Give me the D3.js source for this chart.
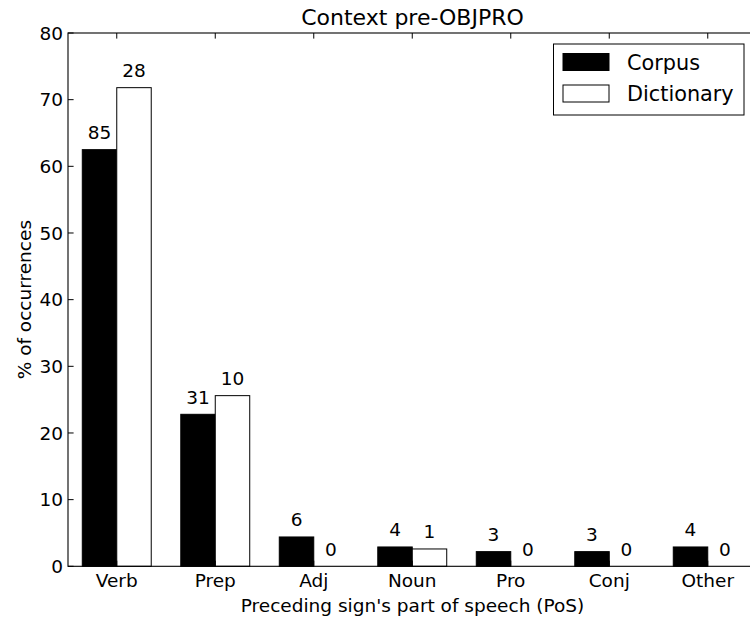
<!DOCTYPE html>
<html><head><meta charset="utf-8">
<script src="https://cdn.jsdelivr.net/npm/d3@7"></script>
<style>body{margin:0;background:#fff}svg{display:block}text{font-family:"DejaVu Sans",sans-serif;fill:#000}</style>
</head><body><svg id="c" width="750" height="621"></svg>
<script>
const categories = ["Verb","Prep","Adj","Noun","Pro","Conj","Other"];
const corpusPct = [62.5, 22.8, 4.4, 2.9, 2.2, 2.2, 2.9];
const dictPct = [71.8, 25.6, 0, 2.6, 0, 0, 0];
const corpusCounts = [85, 31, 6, 4, 3, 3, 4];
const dictCounts = [28, 10, 0, 1, 0, 0, 0];
const yTicks = [0,10,20,30,40,50,60,70,80];
const seriesNames = ["Corpus","Dictionary"];

const svg = d3.select("#c");
const L = 68, R = 757, T = 33, B = 566.3;
const barW = 0.35;
const FS = 18.5;
const x = d3.scaleLinear().domain([-0.145, 6.85]).range([L, R]);
const y = d3.scaleLinear().domain([0, 80]).range([B, T]);

const g = svg.append("g");
const series = [
  {vals: corpusPct, counts: corpusCounts, off: 0, fill: "#000"},
  {vals: dictPct, counts: dictCounts, off: barW, fill: "#fff"}
];
series.forEach(s => {
  g.selectAll(null).data(s.vals).enter().append("rect")
    .attr("x", (d,i) => x(i + s.off))
    .attr("width", x(barW) - x(0))
    .attr("y", d => y(d))
    .attr("height", d => y(0) - y(d))
    .attr("fill", s.fill).attr("stroke", "#000").attr("stroke-width", 1);
  g.selectAll(null).data(s.vals).enter().append("text")
    .attr("x", (d,i) => x(i + s.off + barW/2))
    .attr("y", d => y(d) - 10.5)
    .attr("text-anchor", "middle").attr("font-size", FS)
    .text((d,i) => s.counts[i]);
});

svg.append("rect").attr("x", L).attr("y", T).attr("width", R-L).attr("height", B-T)
  .attr("fill", "none").attr("stroke", "#000").attr("stroke-width", 1.1);

yTicks.forEach(t => {
  svg.append("line").attr("x1", L).attr("x2", L+5.6).attr("y1", y(t)).attr("y2", y(t)).attr("stroke","#000");
  svg.append("line").attr("x1", R).attr("x2", R-5.6).attr("y1", y(t)).attr("y2", y(t)).attr("stroke","#000");
  svg.append("text").attr("x", L-5).attr("y", y(t)).attr("dy","0.36em")
    .attr("text-anchor","end").attr("font-size",FS).text(t);
});
categories.forEach((c,i) => {
  const xp = x(i + barW);
  svg.append("line").attr("x1", xp).attr("x2", xp).attr("y1", B).attr("y2", B-5.6).attr("stroke","#000");
  svg.append("line").attr("x1", xp).attr("x2", xp).attr("y1", T).attr("y2", T+5.6).attr("stroke","#000");
  svg.append("text").attr("x", xp).attr("y", 587).attr("text-anchor","middle").attr("font-size",FS).text(c);
});

svg.append("text").attr("x", (L+R)/2).attr("y", 25).attr("text-anchor","middle").attr("font-size",22).text("Context pre-OBJPRO");
svg.append("text").attr("x", (L+R)/2).attr("y", 611.5).attr("text-anchor","middle").attr("font-size",FS).text("Preceding sign's part of speech (PoS)");
svg.append("text").attr("transform", `translate(31,${(T+B)/2}) rotate(-90)`).attr("text-anchor","middle").attr("font-size",FS).text("% of occurrences");

const lg = svg.append("g");
lg.append("rect").attr("x",553.5).attr("y",44).attr("width",190.5).attr("height",71)
  .attr("fill","#fff").attr("stroke","#000").attr("stroke-width",1);
seriesNames.forEach((n,i) => {
  const yy = 53.5 + i*31.5;
  lg.append("rect").attr("x",563).attr("y",yy).attr("width",46).attr("height",17)
    .attr("fill", series[i].fill).attr("stroke","#000").attr("stroke-width",1);
  lg.append("text").attr("x",627).attr("y",yy+16).attr("font-size",20.8).text(n);
});
</script></body></html>
